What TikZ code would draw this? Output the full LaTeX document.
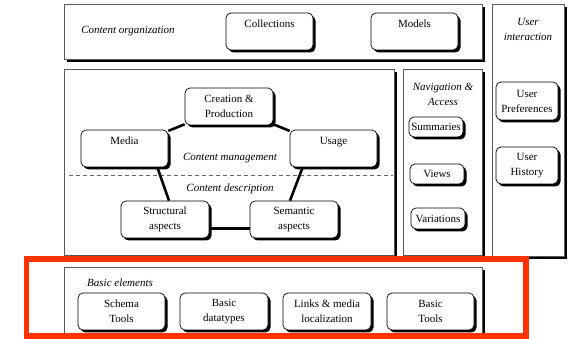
\documentclass[tikz,border=0pt]{standalone}
\usepackage{fontspec}
\setmainfont{Liberation Serif}
\usetikzlibrary{shadows}
\begin{document}
\begin{tikzpicture}[x=1pt,y=-1pt,
  txt/.style={font=\fontsize{11}{15}\selectfont, align=center, inner sep=0pt},
  itxt/.style={font=\fontsize{11}{15}\selectfont\itshape, align=center, inner sep=0pt},
  panel/.style={draw=black!65, fill=white, line width=0.6pt, inner sep=0pt,
    drop shadow={shadow xshift=3pt, shadow yshift=-3pt, opacity=1, fill=black}},
  rbox/.style={draw=black, fill=white, line width=0.7pt, rounded corners=5pt,
    inner sep=0pt, align=center, font=\fontsize{11}{15}\selectfont,
    drop shadow={shadow xshift=2.5pt, shadow yshift=-2.5pt, opacity=1, fill=black}},
  link/.style={line width=2.6pt, black},
  frame/.style={draw={rgb,255:red,255;green,51;blue,0}, line width=5.5pt}
]
\useasboundingbox (0,0) rectangle (571,339);

% outer panels
\node[panel, minimum width=418pt, minimum height=55pt]  (org)   at (273,31.5) {};
\node[panel, minimum width=72pt,  minimum height=252pt] (user)  at (528,130) {};
\node[panel, minimum width=330pt, minimum height=186pt] (cm)    at (229,162) {};
\node[panel, minimum width=79pt,  minimum height=186pt] (nav)   at (442.5,162) {};
\node[panel, minimum width=418pt, minimum height=67pt]  (basic) at (273,300.5) {};

% panel titles
\node[itxt] (orgtitle)   at (128,31)  {Content organization};
\node[itxt] (usertitle)  at (528,29.5) {User\\interaction};
\node[itxt] (navtitle)   at (443,94.5) {Navigation \&\\Access};
\node[itxt] (cmtitle)    at (230,158) {Content management};
\node[itxt] (cdtitle)    at (230,189) {Content description};
\node[itxt, anchor=west] (basictitle) at (87,283) {Basic elements};

% separator between management and description
\coordinate (sepl) at (69,175);
\coordinate (sepr) at (393,175);
\draw[black!60, line width=0.6pt, dash pattern=on 4pt off 3pt] (sepl) -- (sepr);

% content organization (single label in the upper half of each box)
\node[rbox, minimum width=87pt, minimum height=37pt] (coll)   at (269.5,31.5) {Collections\\\mbox{}};
\node[rbox, minimum width=87pt, minimum height=37pt] (models) at (414.5,31.5) {Models\\\mbox{}};

% content management / description
\node[rbox, minimum width=88pt, minimum height=37pt] (creation)   at (229,106.5) {Creation \&\\Production};
\node[rbox, minimum width=87pt, minimum height=37pt] (media)      at (124.5,148.5) {Media\\\mbox{}};
\node[rbox, minimum width=87pt, minimum height=37pt] (usage)      at (333.5,148.5) {Usage\\\mbox{}};
\node[rbox, minimum width=88pt, minimum height=37pt] (structural) at (165,219.5) {Structural\\aspects};
\node[rbox, minimum width=88pt, minimum height=37pt] (semantic)   at (294,219.5) {Semantic\\aspects};

\draw[link] (media) -- (creation);
\draw[link] (creation) -- (usage);
\draw[link] ([xshift=-11pt]media.south east) -- ([xshift=4pt]structural.north);
\draw[link] ([xshift=13pt]usage.south west) -- ([xshift=-4pt]semantic.north);
\draw[link] ([yshift=-9pt]structural.east) -- ([yshift=-9pt]semantic.west);

% navigation & access
\node[rbox, minimum width=54pt, minimum height=20pt] (summ)  at (436,127)   {Summaries};
\node[rbox, minimum width=54pt, minimum height=20pt] (views) at (437,174)   {Views};
\node[rbox, minimum width=54pt, minimum height=21pt] (var)   at (438,218.5) {Variations};

% user interaction
\node[rbox, minimum width=62pt, minimum height=38pt] (upref) at (527,101)   {User\\Preferences};
\node[rbox, minimum width=62pt, minimum height=37pt] (uhist) at (527,165.5) {User\\History};

% basic elements
\node[rbox, minimum width=87pt, minimum height=37pt] (schema)    at (121.5,311.5) {Schema\\Tools};
\node[rbox, minimum width=88pt, minimum height=37pt] (datatypes) at (224,311.5)   {Basic\\datatypes};
\node[rbox, minimum width=88pt, minimum height=37pt] (links)     at (327,311.5)   {Links \& media\\localization};
\node[rbox, minimum width=87pt, minimum height=37pt] (btools)    at (430.5,311.5) {Basic\\Tools};

% highlight frame
\node[frame, minimum width=499.5pt, minimum height=77pt, inner sep=0pt] (hl) at (276.25,297.5) {};
\end{tikzpicture}
\end{document}
